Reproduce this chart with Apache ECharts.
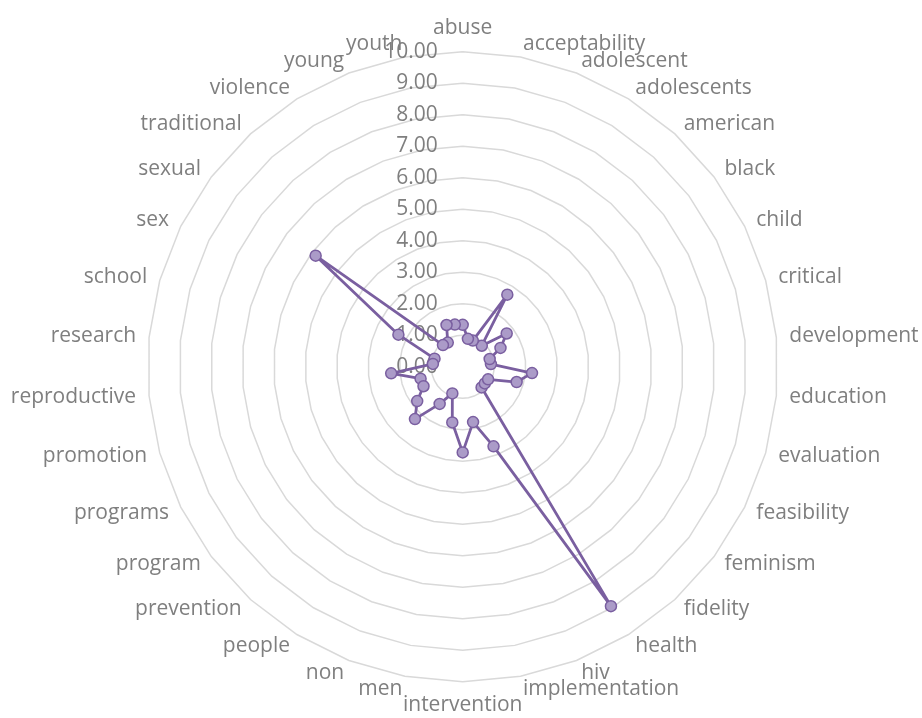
<!DOCTYPE html>
<html>
<head>
<meta charset="utf-8">
<script src="https://cdn.jsdelivr.net/npm/echarts@6/dist/echarts.min.js"></script>
<style>
html,body{margin:0;padding:0;background:#ffffff;}
#chart{width:922px;height:718px;}
</style>
</head>
<body>
<div id="chart"></div>
<script>
// ---- data (clockwise from top, as in the reference) ----
const categories = [
  'abuse','acceptability','adolescent','adolescents','american','black','child',
  'critical','development','education','evaluation','feasibility','feminism',
  'fidelity','health','hiv','implementation','intervention','men','non','people',
  'prevention','program','programs','promotion','reproductive','research','school',
  'sex','sexual','traditional','violence','young','youth'
];
const values = [
  1.33, 0.90, 0.89, 2.69, 0.90, 1.75, 1.34,
  0.89, 0.90, 2.21, 1.78, 0.90, 0.88,
  0.89, 8.94, 2.71, 1.79, 2.72, 1.80, 0.91, 1.39,
  2.25, 1.81, 1.39, 1.39, 2.28, 0.95, 0.93,
  2.28, 5.85, 0.93, 0.90, 1.42, 1.36
];
const axisMin = 0;
const axisMax = 10;
const axisStep = 1;
const tickDecimals = 2;

// ECharts lays radar indicators counter-clockwise; reorder so they read clockwise.
const order = [0];
for (let i = categories.length - 1; i >= 1; i--) order.push(i);

const textColor = '#7f7f7f';
const fontFamily = 'Open Sans';

const indicator = order.map(function (i, k) {
  const ind = { name: categories[i], min: axisMin, max: axisMax };
  if (k === 0) {
    ind.axisLabel = {
      show: true,
      showMinLabel: true,
      showMaxLabel: true,
      margin: 25,
      color: textColor,
      fontSize: 21,
      fontFamily: fontFamily,
      formatter: function (v) { return Number(v).toFixed(tickDecimals); }
    };
  }
  return ind;
});

const chart = echarts.init(document.getElementById('chart'), null, { renderer: 'canvas' });
chart.setOption({
  animation: false,
  backgroundColor: '#ffffff',
  radar: {
    center: [462.7, 366.7],
    radius: 315,
    startAngle: 90,
    shape: 'polygon',
    splitNumber: (axisMax - axisMin) / axisStep,
    axisNameGap: 13,
    axisName: {
      color: textColor,
      fontSize: 21,
      fontFamily: fontFamily
    },
    axisLine: { show: false },
    axisTick: { show: false },
    axisLabel: { show: false },
    splitArea: { show: false },
    splitLine: { lineStyle: { color: '#d9d9d9', width: 1.5 } },
    indicator: indicator
  },
  series: [{
    type: 'radar',
    symbol: 'circle',
    symbolSize: 11,
    lineStyle: { color: '#7a5fa0', width: 2.8 },
    itemStyle: { color: '#ab9bc8', borderColor: '#7a5fa0', borderWidth: 1.5 },
    data: [{ value: order.map(function (i) { return values[i]; }) }]
  }]
});
</script>
</body>
</html>
